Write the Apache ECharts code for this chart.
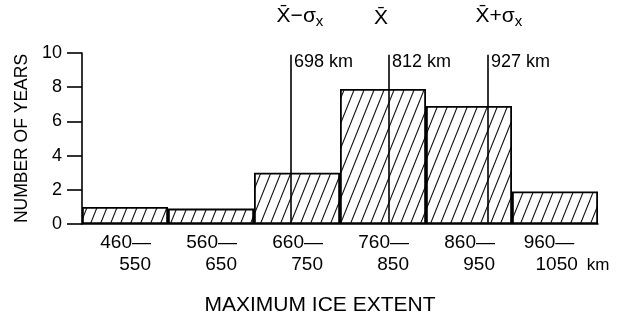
<!DOCTYPE html>
<html>
<head>
<meta charset="utf-8">
<script src="https://cdn.jsdelivr.net/npm/echarts@6/dist/echarts.min.js"></script>
<style>
  html, body { margin: 0; padding: 0; background: #fff; }
  #chart { width: 620px; height: 321px; }
</style>
</head>
<body>
<div id="chart"></div>
<script>
// ---- data ----
const binLow = ['460—', '560—', '660—', '760—', '860—', '960—'];
const binHigh = ['550', '650', '750', '850', '950', '1050 km'];
const counts = [1, 0.9, 3, 7.9, 6.9, 1.9];
const kmRange = [455, 1055];
const statValues = [698, 812, 927];
const statLabels = ['698 km', '812 km', '927 km'];
const statMain = ['X\u0304\u2212\u03C3', 'X\u0304', 'X\u0304+\u03C3'];
const statSub = ['x', '', 'x'];
const yRange = [0, 10];
const yStep = 2;

// ---- style ----
const FONT = '"Liberation Sans", Arial, sans-serif';
const INK = '#000';
const topLabelDx = [9, -8, 11];

function hatch() {
  const W = 10, H = 25;
  const c = document.createElement('canvas');
  c.width = W; c.height = H;
  const g = c.getContext('2d');
  g.fillStyle = '#fff';
  g.fillRect(0, 0, W, H);
  g.strokeStyle = '#111';
  g.lineWidth = 1.1;
  for (let k = -1; k <= 1; k++) {
    g.beginPath();
    g.moveTo(k * W, H);
    g.lineTo(k * W + W, 0);
    g.stroke();
  }
  return c;
}

const chart = echarts.init(document.getElementById('chart'), null, { renderer: 'canvas' });
chart.setOption({
  animation: false,
  backgroundColor: '#fff',
  grid: { left: 82, right: 22, top: 53, bottom: 97 },
  xAxis: [
    {
      type: 'category',
      data: binLow.map((lo, i) => lo + '\n' + binHigh[i]),
      boundaryGap: true,
      axisLine: { show: true, lineStyle: { color: '#000', width: 1.6 } },
      axisTick: { show: false },
      axisLabel: {
        margin: 8,
        interval: 0,
        color: INK,
        fontFamily: FONT,
        fontSize: 19,
        lineHeight: 22,
        formatter: function (v) {
          const parts = v.split('\n');
          const hi = parts[1].split(' ');
          if (hi.length > 1) {
            return '{a|' + parts[0] + '}{p|}\n{q|}{a|' + hi[0] + '}{k|' + hi[1] + '}';
          }
          return '{a|' + parts[0] + '}\n{a|' + hi[0] + '}';
        },
        rich: {
          a: { width: 52, align: 'right', fontSize: 19, fontFamily: FONT, color: INK, lineHeight: 22 },
          p: { width: 12, fontSize: 19, lineHeight: 22 },
          q: { width: 30, fontSize: 19, lineHeight: 22 },
          k: { fontSize: 17, fontFamily: FONT, color: INK, lineHeight: 22, padding: [0, 0, 0, 4] }
        }
      },
      name: 'MAXIMUM ICE EXTENT',
      nameLocation: 'middle',
      nameGap: 71,
      nameTextStyle: { color: INK, fontFamily: FONT, fontSize: 21, padding: [0, 40, 0, 0] }
    },
    {
      type: 'value',
      min: kmRange[0],
      max: kmRange[1],
      show: false
    }
  ],
  yAxis: {
    type: 'value',
    min: yRange[0],
    max: yRange[1],
    interval: yStep,
    axisLine: { show: true, lineStyle: { color: '#000', width: 1.6 } },
    axisTick: { show: true, length: 15, lineStyle: { color: '#000', width: 1.6 } },
    splitLine: { show: false },
    axisLabel: { color: INK, fontFamily: FONT, fontSize: 18, margin: 20 },
    name: 'NUMBER OF YEARS',
    nameLocation: 'middle',
    nameGap: 51,
    nameTextStyle: { color: INK, fontFamily: FONT, fontSize: 17.5 }
  },
  series: [
    {
      type: 'bar',
      xAxisIndex: 0,
      data: counts,
      barCategoryGap: '0%',
      itemStyle: {
        color: { image: hatch(), repeat: 'repeat' },
        borderColor: '#000',
        borderWidth: 1.8
      },
      silent: true
    },
    {
      type: 'scatter',
      xAxisIndex: 1,
      data: statValues.map(v => [v, yRange[1]]),
      symbolSize: 0,
      clip: false,
      silent: true,
      itemStyle: { opacity: 1 },
      label: {
        show: true,
        position: 'right',
        distance: 3,
        offset: [0, 9],
        color: INK,
        opacity: 1,
        fontFamily: FONT,
        fontSize: 18,
        formatter: p => statLabels[p.dataIndex]
      },
      markLine: {
        silent: true,
        symbol: 'none',
        label: { show: false },
        lineStyle: { color: '#000', width: 1.6, type: 'solid', opacity: 1 },
        data: statValues.map(v => [{ coord: [v, yRange[0]] }, { coord: [v, yRange[1] - 0.1] }])
      }
    },
    {
      type: 'scatter',
      xAxisIndex: 1,
      data: statValues.map((v, i) => ({
        value: [v, yRange[1]],
        label: { offset: [topLabelDx[i], 0] }
      })),
      symbolSize: 0,
      clip: false,
      silent: true,
      itemStyle: { opacity: 1 },
      label: {
        show: true,
        position: 'top',
        distance: 24,
        color: INK,
        opacity: 1,
        fontFamily: FONT,
        fontSize: 21,
        formatter: p => '{m|' + statMain[p.dataIndex] + '}' + (statSub[p.dataIndex] ? '{s|' + statSub[p.dataIndex] + '}' : ''),
        rich: {
          m: { fontFamily: FONT, fontSize: 21, color: INK },
          s: { fontFamily: FONT, fontSize: 15, color: INK, padding: [10, 0, 0, 0] }
        }
      }
    }
  ]
});
</script>
</body>
</html>
